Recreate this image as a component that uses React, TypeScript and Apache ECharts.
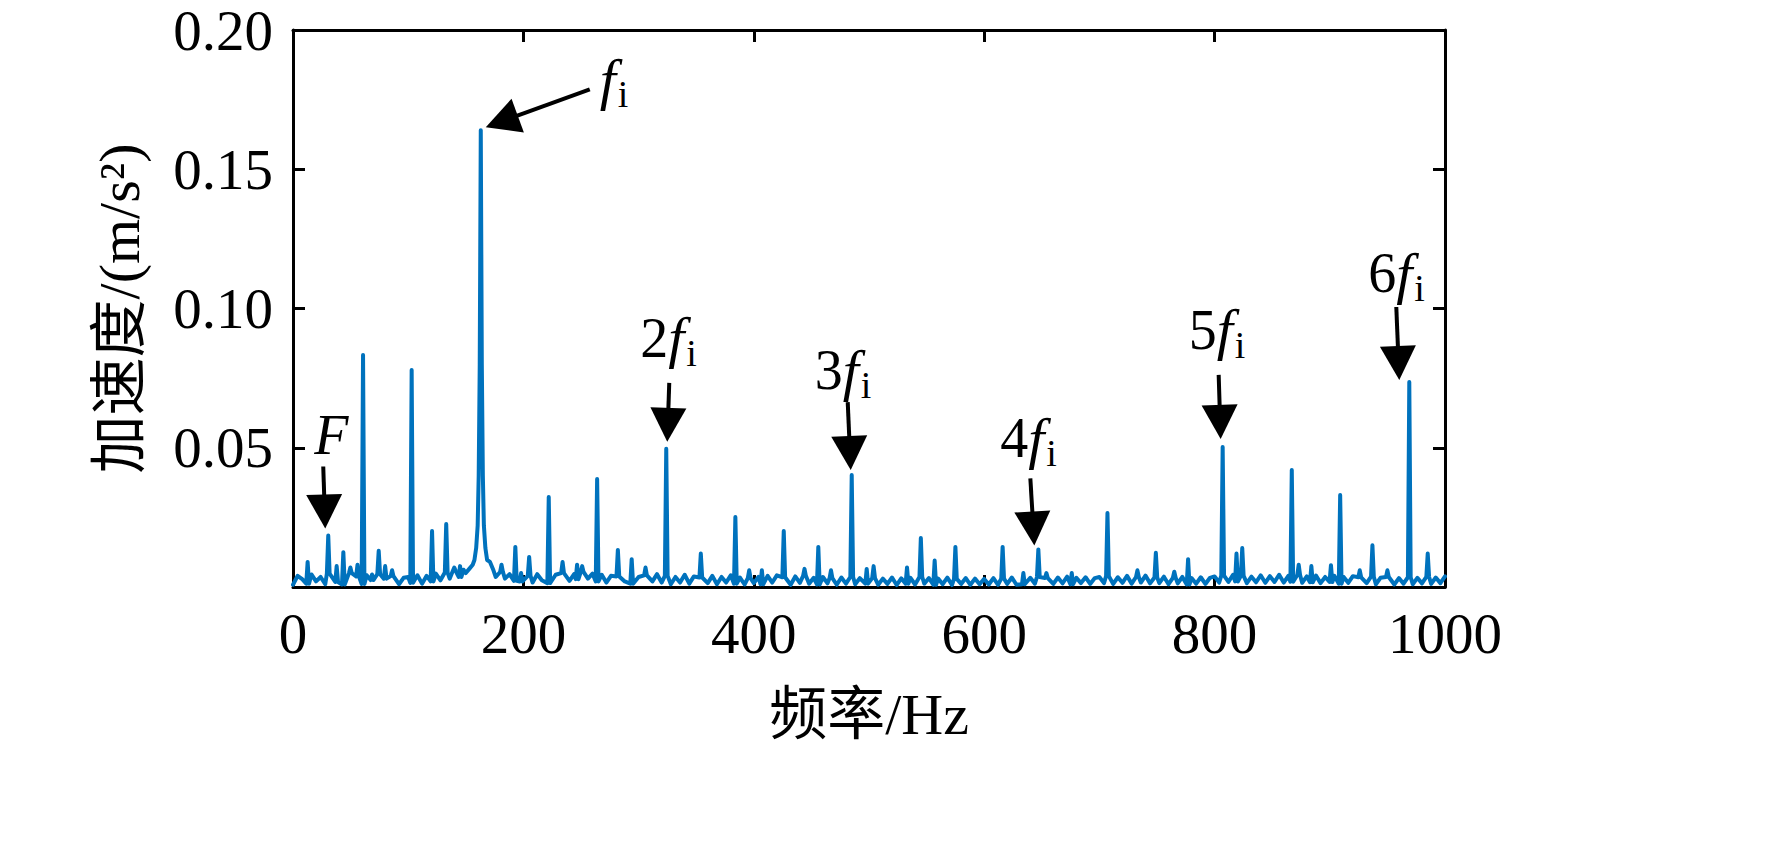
import React, { useEffect, useRef } from 'react';
import * as echarts from 'echarts';

// ---------- data ----------
const NOISE_STEP = 4; // Hz between baseline noise samples
const noise000 = [0.0008,0.0040,0.0028,0.0012,0.0045,0.0020,0.0036,0.0010,0.0048,0.0018,0.0034,0.0009,0.0050,0.0022,0.0038,0.0011,0.0042,0.0025,0.0012,0.0046,0.0030,0.0014,0.0039,0.0010,0.0033];
const noise100 = [0.0036,0.0015,0.0042,0.0012,0.0040,0.0020,0.0048,0.0024,0.0052,0.0030,0.0058,0.0036,0.0062,0.0042,0.0066,0.0048,0.0060,0.0046,0.0050,0.0036,0.0054,0.0030,0.0046,0.0022,0.0042];
const noise200 = [0.0020,0.0040,0.0016,0.0046,0.0024,0.0042,0.0014,0.0044,0.0026,0.0050,0.0022,0.0046,0.0028,0.0054,0.0030,0.0048,0.0020,0.0044,0.0016,0.0040,0.0014,0.0038,0.0020,0.0042,0.0012];
const noise300 = [0.0036,0.0014,0.0042,0.0020,0.0046,0.0016,0.0040,0.0010,0.0036,0.0016,0.0044,0.0012,0.0038,0.0009,0.0034,0.0014,0.0040,0.0010,0.0036,0.0016,0.0042,0.0012,0.0034,0.0009,0.0032];
const noise400 = [0.0014,0.0036,0.0010,0.0040,0.0016,0.0042,0.0011,0.0035,0.0008,0.0038,0.0015,0.0040,0.0012,0.0033,0.0009,0.0036,0.0013,0.0032,0.0008,0.0034,0.0012,0.0036,0.0010,0.0032,0.0014];
const noise500 = [0.0012,0.0032,0.0008,0.0030,0.0011,0.0034,0.0007,0.0031,0.0012,0.0033,0.0009,0.0036,0.0012,0.0032,0.0008,0.0030,0.0010,0.0034,0.0007,0.0029,0.0011,0.0032,0.0008,0.0030,0.0010];
const noise600 = [0.0029,0.0009,0.0032,0.0008,0.0030,0.0011,0.0034,0.0008,0.0031,0.0010,0.0033,0.0012,0.0036,0.0009,0.0032,0.0011,0.0034,0.0013,0.0037,0.0010,0.0033,0.0014,0.0035,0.0011,0.0032];
const noise700 = [0.0036,0.0014,0.0039,0.0011,0.0035,0.0015,0.0040,0.0012,0.0036,0.0016,0.0041,0.0013,0.0034,0.0014,0.0037,0.0010,0.0033,0.0013,0.0036,0.0009,0.0032,0.0012,0.0035,0.0011,0.0033];
const noise800 = [0.0038,0.0016,0.0041,0.0018,0.0044,0.0020,0.0040,0.0014,0.0037,0.0017,0.0042,0.0015,0.0039,0.0018,0.0044,0.0016,0.0040,0.0019,0.0043,0.0015,0.0038,0.0017,0.0041,0.0014,0.0036];
const noise900 = [0.0018,0.0040,0.0012,0.0036,0.0015,0.0039,0.0011,0.0035,0.0014,0.0037,0.0010,0.0033,0.0013,0.0036,0.0009,0.0032,0.0012,0.0035,0.0010,0.0033,0.0013,0.0036,0.0011,0.0034,0.0014,0.0038];

// spectral peaks: frequency (Hz) and amplitude (m/s^2)
const peakFreqs = [12.7,30.6,37.9,43.7,49.8,56,60.8,68.6,74.4,80,86,103,120.7,133,140,145,181,193,198,205,222,234,246.6,251,264,282,294,306,324,354,384,396,407,426,444,456,467,485,498,504,533,545,557,575,616,634,647,654,676,707,733,749,765,777,807,819,824,867,873,884,901,909,926,937,950,969,985];
const peakAmps  = [0.009,0.0185,0.0075,0.0125,0.007,0.008,0.0833,0.0045,0.013,0.0075,0.006,0.0779,0.0201,0.0226,0.007,0.0075,0.008,0.0144,0.005,0.0108,0.0323,0.009,0.008,0.0075,0.0388,0.0133,0.010,0.007,0.0496,0.012,0.0251,0.006,0.006,0.0201,0.0065,0.0144,0.006,0.0402,0.0065,0.0075,0.007,0.0176,0.0095,0.0144,0.0144,0.005,0.0135,0.005,0.005,0.0266,0.006,0.0123,0.0055,0.010,0.0503,0.012,0.014,0.042,0.008,0.0075,0.0078,0.033,0.006,0.015,0.006,0.0736,0.012];

// the broad main peak f_i
const fiFreqs = [150,153,156,157.5,159,160.3,161.2,162.1,163,163.9,164.8,165.7,167,168.5,171,174];
const fiAmps  = [0.005,0.0065,0.008,0.0097,0.014,0.022,0.04,0.08,0.164,0.08,0.04,0.022,0.014,0.0097,0.009,0.006];

// annotations: target peak, multiplier text
const annFreqs = [30.6, 163, 324, 485, 647, 807, 969];
const annAmps  = [0.0185, 0.164, 0.0496, 0.0402, 0.0135, 0.0503, 0.0736];
const annPrefix = ['F', '', '2', '3', '4', '5', '6'];

const xTicks = { min: 0, max: 1000, interval: 200 };
const yTicks = { min: 0, max: 0.2, interval: 0.05 };

// ---------- layout / style ----------
const SERIF = "'Liberation Serif', 'Times New Roman', serif";
const CJK = "'Liberation Serif', 'Noto Sans CJK SC', serif";
const tipOff = [[-3,-7],[5,-3],[1,-7],[-1,-5],[-4,-4],[-2,-8],[-10,-2]];
const tailOff = [[-2,-62],[104,-38],[2,-59],[-3,-68],[-4,-67],[-2,-64],[-3,-73]];
const labelOff = [[6,-93],[114,-48],[-27,-104],[-36,-100],[-34,-107],[-32,-109],[-31,-107]];

function buildSeries(): number[][] {
  const noiseAll = [].concat(noise000, noise100, noise200, noise300, noise400, noise500, noise600, noise700, noise800, noise900) as number[];
  const pts: number[][] = [];
  const fiLo = fiFreqs[0], fiHi = fiFreqs[fiFreqs.length - 1];
  noiseAll.forEach((v, i) => {
    const f = i * NOISE_STEP;
    if (f >= fiLo && f <= fiHi) return;
    if (peakFreqs.some((p) => Math.abs(p - f) < 2.5)) return;
    pts.push([f, v]);
  });
  peakFreqs.forEach((f, i) => {
    const base = noiseAll[Math.min(noiseAll.length - 1, Math.round(f / NOISE_STEP))];
    pts.push([f - 1.2, base], [f, peakAmps[i]], [f + 1.2, base]);
  });
  fiFreqs.forEach((f, i) => pts.push([f, fiAmps[i]]));
  pts.sort((a, b) => a[0] - b[0]);
  return pts;
}

export default function App() {
  const ref = useRef<HTMLDivElement>(null);
  useEffect(() => {
    const chart = echarts.init(ref.current!, null, { renderer: 'svg' });
    const axisLine = { show: true, onZero: false, lineStyle: { color: '#000', width: 3 } };
    const axisTick = { show: true, inside: true, length: 12, lineStyle: { color: '#000', width: 3 } };
    chart.setOption({
      animation: false,
      backgroundColor: '#fff',
      grid: { left: 293, top: 30, width: 1152, height: 557, containLabel: false },
      xAxis: [
        {
          type: 'value', position: 'bottom', ...xTicks,
          axisLine, axisTick, splitLine: { show: false },
          axisLabel: { color: '#000', fontFamily: SERIF, fontSize: 57, margin: 18, formatter: (v: number) => String(v) },
          name: '频率/Hz', nameLocation: 'middle', nameGap: 98,
          nameTextStyle: { color: '#000', fontFamily: CJK, fontSize: 58 },
        },
        {
          type: 'value', position: 'top', ...xTicks,
          axisLine, axisTick, splitLine: { show: false }, axisLabel: { show: false },
        },
      ],
      yAxis: [
        {
          type: 'value', position: 'left', ...yTicks,
          axisLine, axisTick, splitLine: { show: false },
          axisLabel: {
            color: '#000', fontFamily: SERIF, fontSize: 57, margin: 20,
            formatter: (v: number) => (v === 0 ? '' : v.toFixed(2)),
          },
          name: '加速度/(m/s²)', nameLocation: 'middle', nameGap: 145, nameRotate: 90,
          nameTextStyle: { color: '#000', fontFamily: CJK, fontSize: 58 },
        },
        {
          type: 'value', position: 'right', ...yTicks,
          axisLine, axisTick, splitLine: { show: false }, axisLabel: { show: false },
        },
      ],
      series: [
        {
          type: 'line', xAxisIndex: 0, yAxisIndex: 0,
          data: buildSeries(), showSymbol: false, symbol: 'none',
          lineStyle: { color: '#0072BD', width: 4, join: 'round', cap: 'round' }, itemStyle: { color: '#0072BD' },
        },
      ],
    });

    const graphics: any[] = [];
    const L = 34, W = 36;
    annFreqs.forEach((f, i) => {
      const p = chart.convertToPixel({ xAxisIndex: 0, yAxisIndex: 0 }, [f, annAmps[i]]) as number[];
      const tip = [p[0] + tipOff[i][0], p[1] + tipOff[i][1]];
      const tail = [tip[0] + tailOff[i][0], tip[1] + tailOff[i][1]];
      const dx = tip[0] - tail[0], dy = tip[1] - tail[1];
      const len = Math.hypot(dx, dy);
      const ux = dx / len, uy = dy / len;
      const bx = tip[0] - L * ux, by = tip[1] - L * uy;
      const nx = -uy, ny = ux;
      graphics.push({
        type: 'line', silent: true,
        shape: { x1: tail[0], y1: tail[1], x2: bx + ux * 4, y2: by + uy * 4 },
        style: { stroke: '#000', lineWidth: 4 },
      });
      graphics.push({
        type: 'polygon', silent: true,
        shape: { points: [tip, [bx + nx * W / 2, by + ny * W / 2], [bx - nx * W / 2, by - ny * W / 2]] },
        style: { fill: '#000' },
      });
      const lx = tip[0] + labelOff[i][0], ly = tip[1] + labelOff[i][1];
      if (annPrefix[i] === 'F') {
        graphics.push({
          type: 'text', silent: true,
          style: { text: 'F', x: lx, y: ly, font: `italic 56px ${SERIF}`, fill: '#000',
            textAlign: 'center', textVerticalAlign: 'middle', align: 'center', verticalAlign: 'middle' },
        });
        return;
      }
      let cx = lx;
      if (annPrefix[i]) {
        graphics.push({
          type: 'text', silent: true,
          style: { text: annPrefix[i], x: cx, y: ly, font: `56px ${SERIF}`, fill: '#000',
            textAlign: 'left', textVerticalAlign: 'middle', align: 'left', verticalAlign: 'middle' },
        });
        cx += 28;
      }
      graphics.push({
        type: 'text', silent: true,
        style: { text: 'f', x: cx, y: ly, font: `italic 58px ${SERIF}`, fill: '#000',
          textAlign: 'left', textVerticalAlign: 'middle', align: 'left', verticalAlign: 'middle' },
      });
      graphics.push({
        type: 'text', silent: true,
        style: { text: 'i', x: cx + 18, y: ly + 15, font: `38px ${SERIF}`, fill: '#000',
          textAlign: 'left', textVerticalAlign: 'middle', align: 'left', verticalAlign: 'middle' },
      });
    });
    chart.setOption({ graphic: graphics });
    return () => chart.dispose();
  }, []);
  return (
    <div
      ref={ref}
      style={{ position: 'fixed', left: 0, top: 0, width: 1772, height: 861, background: '#fff' }}
    />
  );
}
